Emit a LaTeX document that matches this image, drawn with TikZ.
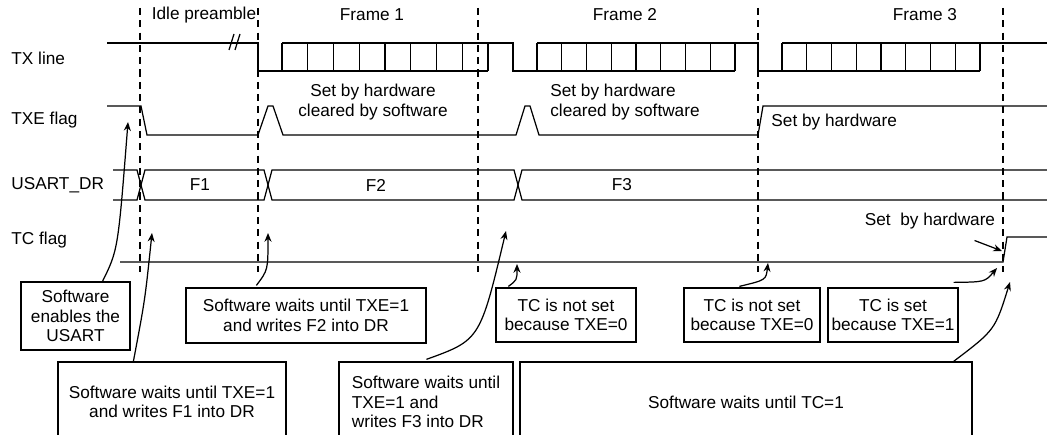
\documentclass[tikz,border=0pt]{standalone}
\usepackage{fontspec}
\setmainfont{Liberation Sans}
\usetikzlibrary{arrows.meta}
\tikzstyle{box} = [rectangle, draw, align=center, inner sep=0pt]
\tikzstyle{line} = [draw, -{Stealth[length=5pt,width=4pt]}]
\tikzstyle{guide} = [draw, dash pattern=on 4pt off 3pt]
\begin{document}
\begin{tikzpicture}[x=0.02cm, y=-0.02cm, line width=0.7pt,
    font=\fontsize{9.8}{11}\selectfont]
  \useasboundingbox (0,0) rectangle (1047,435);
   % Signal names
    \node [anchor=west] (txl) at (5,58) {TX line};
    \node [anchor=west] (txe) at (5,120) {TXE flag};
    \node [anchor=west] (dr) at (5,185) {USART\_DR};
    \node [anchor=west] (tcf) at (5,240) {TC flag};
    \node (idle) at (204,15) {Idle preamble};
    \node (fr1) at (372,15) {Frame 1};
    \node (fr2) at (625,15) {Frame 2};
    \node (fr3) at (925,15) {Frame 3};
   % Dashed markers
    \foreach \x in {140,258,478,758,1003}
      \path [guide] (\x,8) -- (\x,272);
   % TX line
    \draw (107,43) -- (258,43) -- (258,71) -- (282,71);
    \draw (229,50) -- (234,34) (235,50) -- (240,34);
    \foreach \a/\b in {282/488, 537/735, 782/980}{
      \draw (\a,43) -- (\b,43) (\a,71) -- (\b,71) (\b,43) -- (\b,71);
      \foreach \i in {0,...,7}
        \draw ({\a+\i*(\b-\a)/8},43) -- ({\a+\i*(\b-\a)/8},71);
    }
    \draw (488,43) -- (513,43) -- (513,71) -- (537,71);
    \draw (735,43) -- (758,43) -- (758,71) -- (782,71);
    \draw (980,43) -- (1047,43);
   % TXE flag
    \draw (107,106) -- (141,106) -- (147,135) -- (258,135) -- (268,106) -- (273,106)
      -- (283,135) -- (516,135) -- (525,106) -- (530,106) -- (539,135) -- (758,135)
      -- (763,106) -- (1047,106);
    \node [align=center] (set1) at (373,102) {Set by hardware\\cleared by software};
    \node [align=left] (set2) at (625,102) {Set by hardware\\cleared by software};
    \node [anchor=west] (set3) at (765,122) {Set by hardware};
   % USART_DR
    \draw (113,170) -- (137,170) -- (145,200) -- (264,200) -- (272,170) -- (514,170)
      -- (522,200) -- (1047,200);
    \draw (113,200) -- (137,200) -- (145,170) -- (264,170) -- (272,200) -- (514,200)
      -- (522,170) -- (1047,170);
    \node (f1) at (200,185) {F1};
    \node (f2) at (376,185) {F2};
    \node (f3) at (622,185) {F3};
   % TC flag
    \draw (120,262) -- (1003,262) -- (1007,237) -- (1047,237);
    \node (set4) at (930,221) {Set\ \ by hardware};
    \coordinate (tcup) at (1002,251);
    \path [line] (set4.south east) ++(-27,5) -- (tcup);
   % Boxes
    \node [box, minimum width=109*0.02cm, minimum height=68*0.02cm] (en) at (75.5,316)
      {Software\\enables the\\USART};
    \node [box, minimum width=240*0.02cm, minimum height=55*0.02cm] (w2) at (306,315.5)
      {Software waits until TXE=1\\and writes F2 into DR};
    \node [box, minimum width=228*0.02cm, minimum height=80*0.02cm] (w1) at (172,402)
      {Software waits until TXE=1\\and writes F1 into DR};
    \node [box, minimum width=174*0.02cm, minimum height=80*0.02cm, align=left] (w3) at (426,402)
      {Software waits until\\TXE=1 and\\writes F3 into DR};
    \node [box, minimum width=140*0.02cm, minimum height=54*0.02cm] (tc1) at (566,315)
      {TC is not set\\because TXE=0};
    \node [box, minimum width=136*0.02cm, minimum height=54*0.02cm] (tc2) at (752,315)
      {TC is not set\\because TXE=0};
    \node [box, minimum width=130*0.02cm, minimum height=54*0.02cm] (tc3) at (893,315)
      {TC is set\\because TXE=1};
    \node [box, minimum width=452*0.02cm, minimum height=80*0.02cm] (wtc) at (746,402)
      {Software waits until TC=1};
   % Arrows
    \coordinate (p0) at (128,122);
    \coordinate (p1) at (152,233);
    \coordinate (p2) at (268,233);
    \coordinate (p3) at (506,231);
    \coordinate (p4) at (517,264);
    \coordinate (p5) at (768,263);
    \coordinate (p6) at (997,268);
    \coordinate (p7) at (1010,282);
    \path [line] (en.north) ++(27,0) .. controls (118,250) .. (p0);
    \path [line] (w1.north west) ++(76,0) .. controls (145,300) .. (p1);
    \path [line] (w2.north west) ++(71,-2) .. controls (268,270) .. (p2);
    \path [line] (w3.north west) ++(88,-2) .. controls (480,340) .. (p3);
    \path [line] (tc1.north west) ++(13,-1) .. controls (517,280) .. (p4);
    \path [line] (tc2.north west) ++(56,-1) .. controls (766,280) .. (p5);
    \path [line] (tc3.north east) ++(-5,-5) .. controls (985,282) .. (p6);
    \path [line] (wtc.north east) ++(-19,0) .. controls (995,330) .. (p7);
\end{tikzpicture}
\end{document}
